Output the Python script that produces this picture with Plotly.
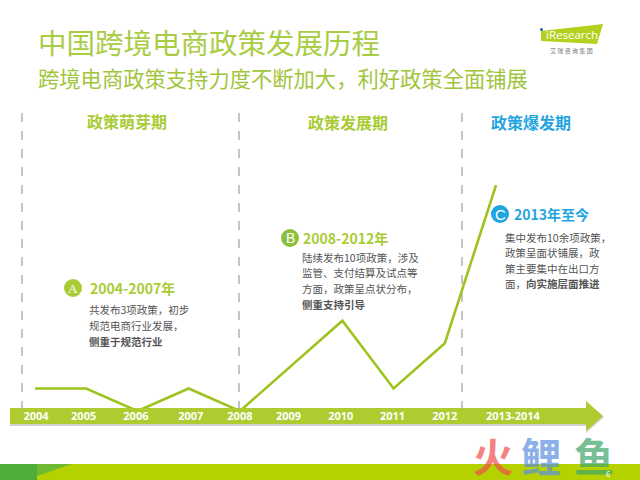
import plotly.graph_objects as go

# policy count per year
years = [2004, 2005, 2006, 2007, 2008, 2009, 2010, 2011, 2012, 2013]
policies = [1, 1, 0, 1, 0, 2, 4, 1, 3, 10]

# labels on the arrow do not sit exactly under the points
tick_positions = [2004.02, 2004.95, 2005.97, 2007.04, 2008, 2008.95, 2009.97, 2010.98, 2012, 2013.33]
tick_labels = ['2004', '2005', '2006', '2007', '2008', '2009', '2010', '2011', '2012', '2013-2014']

title = '中国跨境电商政策发展历程'
subtitle = '跨境电商政策支持力度不断加大，利好政策全面铺展'
phases = ['政策萌芽期', '政策发展期', '政策爆发期']
headings = ['2004-2007年', '2008-2012年', '2013年至今']
notes_a = ['共发布3项政策，初步', '规范电商行业发展，', '<b>侧重于规范行业</b>']
notes_b = ['陆续发布10项政策，涉及', '监管、支付结算及试点等', '方面，政策呈点状分布，', '<b>侧重支持引导</b>']
notes_c = ['集中发布10余项政策，', '政策呈面状铺展，政', '策主要集中在出口方', '面，<b>向实施层面推进</b>']

GREEN = '#A9CC35'
LINE = '#9DC31E'
BLUE = '#1FA5E0'
BODY = '#555555'
FONT = 'Noto Sans CJK SC'
W, H = 640, 480


def px(x):
    return x / W


def py(y):
    return 1 - y / H


def poly(points, color, opacity=1):
    path = 'M ' + ' L '.join(f'{px(x):.4f},{py(y):.4f}' for x, y in points) + ' Z'
    return dict(type='path', path=path, xref='paper', yref='paper', fillcolor=color,
                line_width=0, opacity=opacity, layer='below')


def label(x, y, text, size, color, anchor='left', opacity=1, family=FONT):
    return dict(x=px(x), y=py(y), xref='paper', yref='paper', text=text, showarrow=False,
                xanchor=anchor, yanchor='middle', opacity=opacity,
                font=dict(size=size, color=color, family=family))


fig = go.Figure()
fig.add_trace(go.Scatter(x=years, y=policies, mode='lines',
                         line=dict(color=LINE, width=2.6), showlegend=False, hoverinfo='skip'))

shapes = []
# dashed separators
for x in [22, 239, 462]:
    shapes.append(dict(type='line', xref='paper', yref='paper', x0=px(x), x1=px(x),
                       y0=py(113), y1=py(408), layer='below',
                       line=dict(color='#8A8A8A', width=1, dash='dash')))

# arrow, with a soft shadow under it
shadow = [(10, 410), (586, 410), (586, 402), (604, 417), (586, 433), (586, 426), (10, 426)]
arrow = [(10, 408), (586, 408), (586, 401), (603, 416), (586, 431), (586, 424), (10, 424)]
shapes.append(poly(shadow, '#BDBDBD', 0.7))
shapes.append(poly(arrow, '#AECB2F'))

# footer band
shapes.append(poly([(0, 464), (640, 464), (640, 480), (0, 480)], '#B5D200'))
shapes.append(poly([(0, 464), (72, 464), (37, 476), (37, 480), (0, 480)], '#6DB92F'))
shapes.append(poly([(0, 464), (37, 464), (37, 480), (0, 480)], '#4DAE3A'))

# logo
shapes.append(poly([(541, 31), (603, 24), (597, 44), (541, 41)], '#B5CF1E'))
shapes.append(dict(type='circle', xref='paper', yref='paper', x0=px(540), x1=px(543),
                   y0=py(28), y1=py(31), fillcolor='#1E5FA8', line_width=0))

# badges
for cx, cy, color in [(73, 288, '#A9CC35'), (290, 238, '#8DBF3E'), (500, 214, BLUE)]:
    shapes.append(dict(type='circle', xref='paper', yref='paper', x0=px(cx - 9), x1=px(cx + 9),
                       y0=py(cy - 9), y1=py(cy + 9), fillcolor=color, line_width=0, layer='below'))

annotations = [
    label(36, 41, title, 28.5, '#A9CC45'),
    label(36, 78, subtitle, 21.3, '#A2C53C'),
    label(127, 121, f'<b>{phases[0]}</b>', 16, GREEN, 'center'),
    label(348, 122, f'<b>{phases[1]}</b>', 16, GREEN, 'center'),
    label(531, 122, f'<b>{phases[2]}</b>', 16, BLUE, 'center'),
    label(88, 288, f'<b>{headings[0]}</b>', 14, GREEN),
    label(301, 238, f'<b>{headings[1]}</b>', 14, GREEN),
    label(512, 214, f'<b>{headings[2]}</b>', 14, BLUE),
    label(73, 288, 'A', 13, 'white', 'center', family='Liberation Serif'),
    label(290, 238, 'B', 14, 'white', 'center', family='Liberation Sans'),
    label(500, 214, 'C', 15, 'white', 'center', family='Liberation Sans'),
    # logo text
    label(544, 35, 'iResearch', 11.5, 'white', family='Open Sans'),
    label(571, 51, '艾 瑞 咨 询 集 团', 6, '#777777', 'center'),
    # watermark and page number
    label(493, 455, '<b>火</b>', 40, '#F0504A', 'center', 0.7),
    label(541, 455, '<b>鲤</b>', 40, '#5C8FE0', 'center', 0.7),
    label(594, 455, '<b>鱼</b>', 40, '#3FA56B', 'center', 0.7),
    label(608, 473, '6', 8, 'white', 'center'),
]
for i, line in enumerate(notes_a):
    annotations.append(label(87, 309 + i * 16, line, 10.5, BODY))
for i, line in enumerate(notes_b):
    annotations.append(label(300, 257 + i * 15.7, line, 10.5, BODY))
for i, line in enumerate(notes_c):
    annotations.append(label(503, 237 + i * 15.5, line, 10.5, BODY))

fig.update_layout(
    width=W, height=H, margin=dict(l=0, r=0, t=0, b=0),
    paper_bgcolor='white', plot_bgcolor='rgba(0,0,0,0)',
    shapes=shapes, annotations=annotations, showlegend=False,
)
fig.update_xaxes(range=[2003.317, 2015.81], domain=[0, 1], showgrid=False, zeroline=False,
                 showline=False, ticks='', tickmode='array', tickvals=tick_positions,
                 ticktext=[f'<b>{t}</b>' for t in tick_labels], tickangle=0,
                 tickfont=dict(size=11, color='white', family='Open Sans'))
fig.update_yaxes(range=[0.135, 18.19], domain=[0.15, 1], visible=False)

# the page's default body margin would push the chart off by 8px
fig.write_html('out.html', config=dict(displayModeBar=False),
               post_script="document.body.style.margin='0';document.body.style.overflow='hidden';")
